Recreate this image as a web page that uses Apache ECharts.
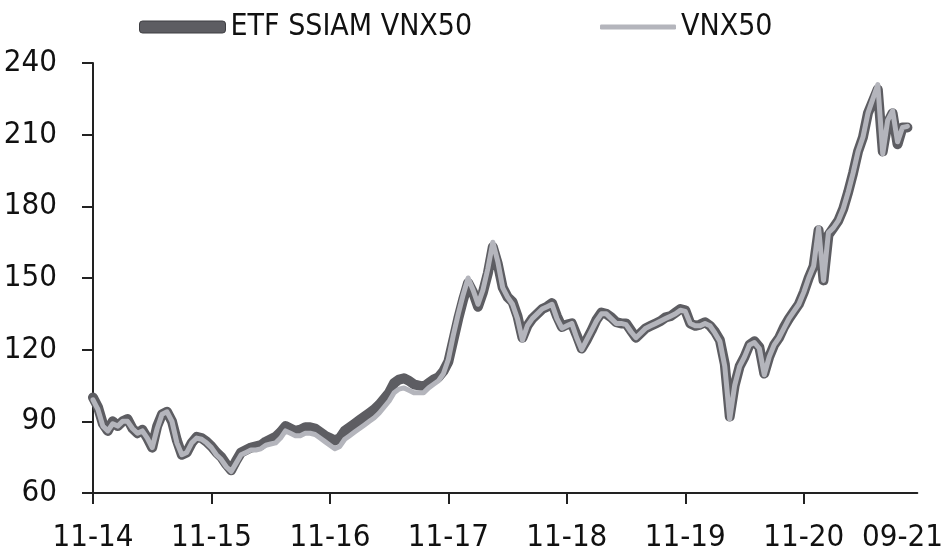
<!DOCTYPE html>
<html>
<head>
<meta charset="utf-8">
<script src="https://cdn.jsdelivr.net/npm/echarts@6/dist/echarts.min.js"></script>
<style>
html,body{margin:0;padding:0;background:#fff;}
#chart{width:946px;height:553px;}
</style>
</head>
<body>
<div id="chart"></div>
<script>
// Half-monthly observations from Nov 2014
const startYear = 2014, startMonth = 11, categoryCount = 168;
const tickLabels = ['11-14','11-15','11-16','11-17','11-18','11-19','11-20','09-21'];
const seriesNames = ['ETF SSIAM VNX50', 'VNX50'];

const etf = [
  100,96,89,86,90,88,90,91,87,85,86.5,83,79,88,93,94,90,82,76,77,81,83.5,83,81.5,
  79.5,77,75,72,69.5,73.5,77,78,79,79.5,80,81.5,82.5,83.5,85.5,88,87,86,86.5,87.5,87.5,87,85.5,84,
  83,82,83,86,87.5,89,90.5,92,93.5,95,97,99.5,102,106,107.5,108,107,105.5,105,104.5,106,107.5,108.5,111,
  115,124,133,141,148,144,138,144,152,163,156,146,142,140,134,125,130,133,135,137,138,139.5,134,129.5,
  130.5,131,126,120.5,124,128,132.5,135.5,135,133.5,131.5,131,131,128,125,127,129,130,131,132,133.5,134,135.5,137,
  136.5,131,130,130.5,131.5,130,127.5,124,114,92,105,113,117,122,123.5,121,110,117,122,125,129.5,133,136,139,
  144,150,155,170,149,168,171,174,179,186,194,203,209,219,224,229,203,215,219,206,213,213
];
const vnx50 = [
  99,95,88,86,89,88,90,90,87,85,86,83,79,87,93,94,90,81,76,77,81,83,82.5,81,
  79,76,74,71,69,72.5,76,77,78,78,78.5,80,80.5,81,83,86,85,84,84,85,85,84.5,83,81.5,
  80,78.5,79.5,82.5,84,85.5,87,88.5,90,91.5,93.5,96,98.5,102,103.5,104,103,102,102,102,104,105.5,107,110,
  116,126,135,143,150,145,139,145,154,165,157,146,142,139,133,124,130,133,135,137,138,139,133,129,
  130,131,125,120,124,128,132,135,135,133,131,131,130.5,127.5,125,127,129,130,131,132,133,134,135,136.5,
  136,131,130,130,131,130,127,123.5,113,91,105,113,117,122,123,120.5,109.5,117,122,125,129,133,136,139,
  144,150,155,171,149,169,171,174,179,186,194,203,209,219,225,231,202,216,220,207,213,213.5
];

const categories = [];
for (let i = 0; i < categoryCount; i++) {
  const m = startMonth - 1 + Math.floor(i / 2);
  const y = startYear + Math.floor(m / 12);
  const mm = String(m % 12 + 1).padStart(2, '0');
  categories.push(y + '-' + mm + '-' + (i % 2 === 0 ? '01' : '16'));
}
function shortLabel(v) {
  const p = v.split('-');
  return p[1] + '-' + p[0].slice(2);
}
function isLabel(v) {
  return v.endsWith('-01') && tickLabels.indexOf(shortLabel(v)) >= 0;
}
function isTick(v) {
  return v.endsWith('-11-01');
}

const FONT = '"Liberation Sans Narrow", "Arial Narrow", "DejaVu Sans Condensed", sans-serif';
const DARK = '#5d5d62';
const LIGHT = '#b4b5bc';

const chart = echarts.init(document.getElementById('chart'), null, {renderer: 'canvas'});
chart.setOption({
  animation: false,
  backgroundColor: '#fff',
  grid: {left: 93, right: 26, top: 63, bottom: 59, containLabel: false},
  legend: [
    {
      left: 134, top: 7, itemWidth: 86, itemHeight: 12, itemGap: 0,
      textStyle: {fontFamily: FONT, fontSize: 30, color: '#111'},
      data: [{name: seriesNames[0], icon: 'roundRect', itemStyle: {color: DARK, borderColor: '#3e3e42', borderWidth: 1}}]
    },
    {
      left: 595, top: 7, itemWidth: 76, itemHeight: 5, itemGap: 0,
      textStyle: {fontFamily: FONT, fontSize: 30, color: '#111'},
      data: [{name: seriesNames[1], icon: 'roundRect', itemStyle: {color: LIGHT}}]
    }
  ],
  xAxis: {
    type: 'category',
    data: categories,
    boundaryGap: false,
    axisLine: {show: true, lineStyle: {color: '#222', width: 2}},
    axisTick: {show: true, length: 11, lineStyle: {color: '#222', width: 2},
      interval: function (idx, v) { return isTick(v); }},
    axisLabel: {
      interval: function (idx, v) { return isLabel(v); },
      formatter: function (v) { return shortLabel(v); },
      fontFamily: FONT, fontSize: 31, color: '#111', margin: 29
    },
    splitLine: {show: false}
  },
  yAxis: {
    type: 'value',
    min: 60, max: 240, interval: 30,
    axisLine: {show: true, lineStyle: {color: '#222', width: 2}},
    axisTick: {show: true, length: 11, lineStyle: {color: '#222', width: 2}},
    axisLabel: {fontFamily: FONT, fontSize: 31, color: '#111', margin: 36},
    splitLine: {show: false}
  },
  series: [
    {
      name: seriesNames[0], type: 'line', data: etf, showSymbol: false, symbol: 'none',
      lineStyle: {color: DARK, width: 10, cap: 'round', join: 'round'},
      itemStyle: {color: DARK}, z: 2
    },
    {
      name: seriesNames[1], type: 'line', data: vnx50, showSymbol: false, symbol: 'none',
      lineStyle: {color: LIGHT, width: 5, cap: 'round', join: 'round'},
      itemStyle: {color: LIGHT}, z: 3
    }
  ]
});
</script>
</body>
</html>
